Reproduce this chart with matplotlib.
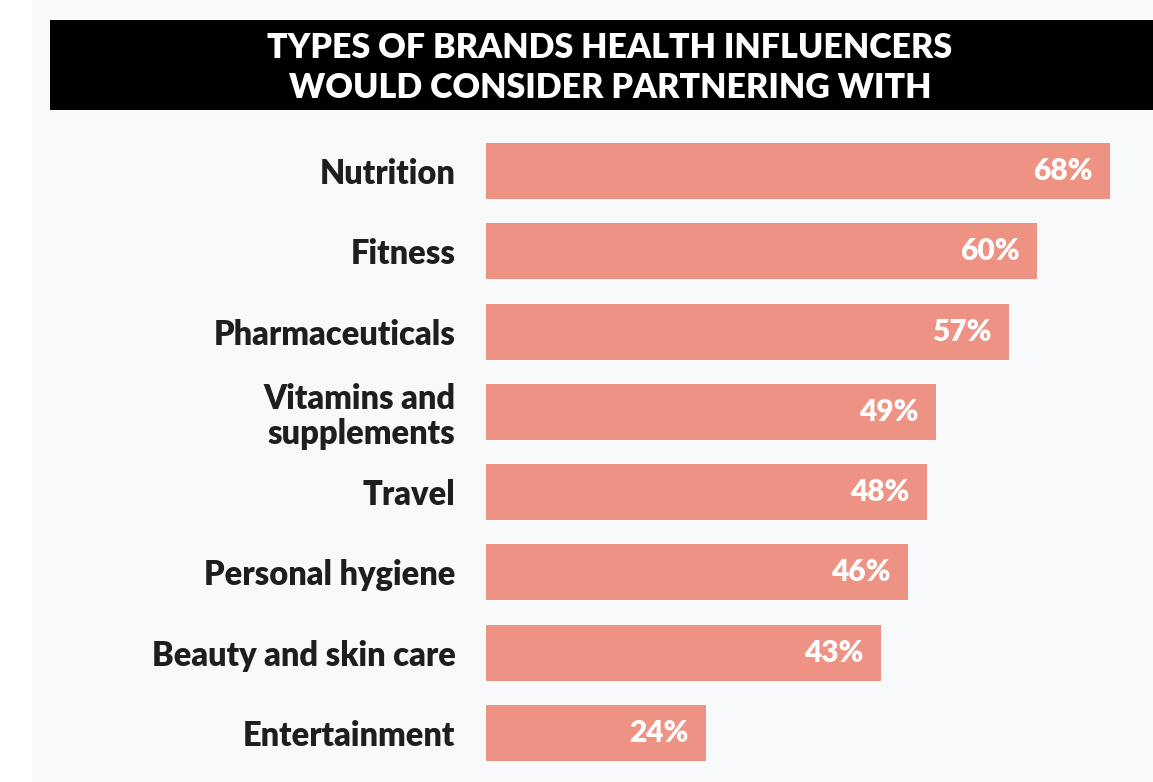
import matplotlib
matplotlib.use('Agg')
from matplotlib import pyplot as plt
from matplotlib.patches import Rectangle

categories = ['Nutrition', 'Fitness', 'Pharmaceuticals', 'Vitamins and\nsupplements',
              'Travel', 'Personal hygiene', 'Beauty and skin care', 'Entertainment']
values = [68, 60, 57, 49, 48, 46, 43, 24]
title = 'TYPES OF BRANDS HEALTH INFLUENCERS\nWOULD CONSIDER PARTNERING WITH'

W, H = 1153, 782
plt.rcParams['font.family'] = ['Lato', 'DejaVu Sans']

fig = plt.figure(figsize=(W / 100, H / 100), dpi=100)
fig.patch.set_facecolor('white')
# light grey panel with white strip on the left
fig.patches.append(Rectangle((32 / W, 0), 1, 1, transform=fig.transFigure,
                             facecolor='#f8f9fa', edgecolor='none', zorder=0))
# black title bar
fig.patches.append(Rectangle((50 / W, 1 - 110 / H), 1, 90 / H, transform=fig.transFigure,
                             facecolor='black', edgecolor='none', zorder=1))
fig.text(610 / W, 1 - 68 / H, title, ha='center', va='center', color='white',
         fontsize=24.5, fontweight='heavy', linespacing=1.3, zorder=2)

ax = fig.add_axes([486 / W, 1 - 773 / H, 1 - 486 / W, (773 - 131) / H])
ax.set_zorder(5)
ax.set_facecolor('none')
y = list(range(len(categories)))
ax.barh(y, values, height=0.7, color='#ee9283')
ax.set_xlim(0, (W - 486) / 9.18)
ax.set_ylim(len(categories) - 0.5, -0.5)
for i, v in enumerate(values):
    ax.text(v - 1.9, i, f'{v}%', ha='right', va='center', color='white',
            fontsize=21.5, fontweight='heavy')
ax.set_yticks(y)
ax.set_yticklabels(categories, fontsize=23.5, fontweight='heavy', color='#1e1e1e',
                   linespacing=1.12, ha='right')
ax.tick_params(axis='y', length=0, pad=22)
ax.set_xticks([])
for s in ax.spines.values():
    s.set_visible(False)

fig.savefig('out.png', dpi=100)
